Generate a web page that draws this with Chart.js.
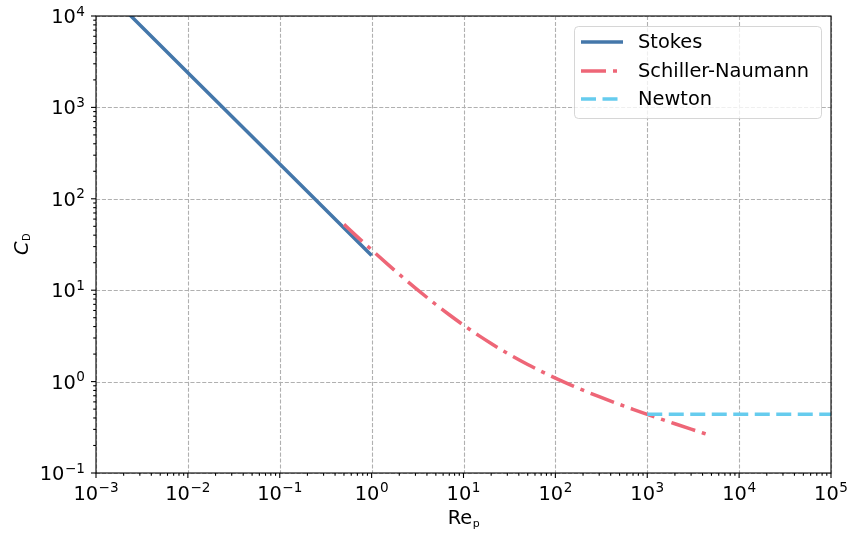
<!DOCTYPE html>
<html>
<head>
<meta charset="utf-8">
<script src="https://cdn.jsdelivr.net/npm/chart.js@4/dist/chart.umd.min.js"></script>
<style>
  html, body { margin: 0; padding: 0; background: #fff; }
  #wrap { width: 848px; height: 533px; }
</style>
</head>
<body>
<div id="wrap"><canvas id="c" width="848" height="533"></canvas></div>
<script>
// Drag coefficient vs particle Reynolds number
const stokesRe = [0.001, 0.01, 0.1, 1];
const stokesCd = [24000, 2400, 240, 24];

const schillerRe = [0.5, 0.7, 1, 1.5, 2, 3, 5, 7, 10, 15, 20, 30, 50, 70, 100, 150, 200, 300, 500, 700, 1000, 1500, 2000, 3000, 5000];
const schillerCd = [52.47, 38.31, 27.6, 19.17, 14.90, 10.55, 6.975, 5.386, 4.151, 3.143, 2.610, 2.042, 1.538, 1.295, 1.092, 0.910, 0.806, 0.684, 0.5627, 0.4976, 0.4385, 0.381, 0.3456, 0.3018, 0.2551];

const newtonRe = [1000, 100000];
const newtonCd = [0.44, 0.44];

const seriesNames = ['Stokes', 'Schiller-Naumann', 'Newton'];

const xTicks = [1e-3, 1e-2, 1e-1, 1e0, 1e1, 1e2, 1e3, 1e4, 1e5];
const xTickExps = ['\u22123', '\u22122', '\u22121', '0', '1', '2', '3', '4', '5'];
const yTicks = [1e-1, 1e0, 1e1, 1e2, 1e3, 1e4];
const yTickExps = ['\u22121', '0', '1', '2', '3', '4'];

const FONT = '"DejaVu Sans", sans-serif';
const MAIN_PX = 19.4;
const SUP_PX = 13.6;

const colors = ['#4477AA', '#EE6677', '#66CCEE'];
const dashes = [[], [25, 7, 4, 7], [15, 6.5]];
const LW = 3.5;

function pts(xs, ys) { return xs.map((x, i) => ({ x: x, y: ys[i] })); }

function powLabel(ctx, exp, x, baseMain, baseSup, align) {
  ctx.font = MAIN_PX + 'px ' + FONT;
  const w1 = ctx.measureText('10').width;
  ctx.font = SUP_PX + 'px ' + FONT;
  const w2 = ctx.measureText(exp).width;
  const total = w1 + 0.5 + w2;
  let start = align === 'center' ? x - total / 2 : x - total;
  ctx.textAlign = 'left';
  ctx.textBaseline = 'alphabetic';
  ctx.font = MAIN_PX + 'px ' + FONT;
  ctx.fillText('10', start, baseMain);
  ctx.font = SUP_PX + 'px ' + FONT;
  ctx.fillText(exp, start + w1 + 0.5, baseSup);
}

const axesPlugin = {
  id: 'axesDecor',
  beforeDatasetsDraw(chart) {
    const { ctx, chartArea: a, scales } = chart;
    ctx.save();
    ctx.strokeStyle = '#b0b0b0';
    ctx.lineWidth = 1.1;
    ctx.setLineDash([4.1, 1.8]);
    xTicks.forEach(v => {
      const px = Math.round(scales.x.getPixelForValue(v)) + 0.5;
      ctx.beginPath(); ctx.moveTo(px, a.top); ctx.lineTo(px, a.bottom); ctx.stroke();
    });
    yTicks.forEach(v => {
      const py = Math.round(scales.y.getPixelForValue(v)) + 0.5;
      ctx.beginPath(); ctx.moveTo(a.left, py); ctx.lineTo(a.right, py); ctx.stroke();
    });
    ctx.restore();
  },
  afterDatasetsDraw(chart) {
    const { ctx, chartArea: a, scales } = chart;
    ctx.save();
    ctx.strokeStyle = '#000';
    ctx.fillStyle = '#000';
    ctx.lineWidth = 1.1;
    ctx.setLineDash([]);
    // frame
    ctx.strokeRect(a.left, a.top, a.right - a.left, a.bottom - a.top);

    // x ticks
    xTicks.forEach((v, i) => {
      const px = scales.x.getPixelForValue(v);
      ctx.beginPath(); ctx.moveTo(px, a.bottom); ctx.lineTo(px, a.bottom + 5); ctx.stroke();
      if (i < xTicks.length - 1) {
        for (let k = 2; k <= 9; k++) {
          const mx = scales.x.getPixelForValue(v * k);
          ctx.beginPath(); ctx.moveTo(mx, a.bottom); ctx.lineTo(mx, a.bottom + 2.8); ctx.stroke();
        }
      }
      powLabel(ctx, xTickExps[i], px, a.bottom + 26.5, a.bottom + 19, 'center');
    });

    // y ticks
    yTicks.forEach((v, i) => {
      const py = scales.y.getPixelForValue(v);
      ctx.beginPath(); ctx.moveTo(a.left, py); ctx.lineTo(a.left - 5, py); ctx.stroke();
      if (i < yTicks.length - 1) {
        for (let k = 2; k <= 9; k++) {
          const my = scales.y.getPixelForValue(v * k);
          ctx.beginPath(); ctx.moveTo(a.left, my); ctx.lineTo(a.left - 2.8, my); ctx.stroke();
        }
      }
      powLabel(ctx, yTickExps[i], a.left - 11, py + 7, py - 0.5, 'right');
    });

    // axis titles
    const cx = (a.left + a.right) / 2;
    ctx.font = MAIN_PX + 'px ' + FONT;
    const wRe = ctx.measureText('Re').width;
    ctx.font = '11px ' + FONT;
    const wP = ctx.measureText('p').width;
    let sx = cx - (wRe + wP) / 2;
    ctx.textAlign = 'left';
    ctx.textBaseline = 'alphabetic';
    ctx.font = MAIN_PX + 'px ' + FONT;
    ctx.fillText('Re', sx, 524);
    ctx.font = '11px ' + FONT;
    ctx.fillText('p', sx + wRe + 0.5, 527);

    const cy = (a.top + a.bottom) / 2;
    ctx.translate(28, cy);
    ctx.rotate(-Math.PI / 2);
    ctx.font = 'italic ' + MAIN_PX + 'px ' + FONT;
    const wC = ctx.measureText('C').width;
    ctx.font = '10px ' + FONT;
    const wD = ctx.measureText('D').width;
    const sy = -(wC + wD) / 2;
    ctx.font = 'italic ' + MAIN_PX + 'px ' + FONT;
    ctx.fillText('C', sy, 0);
    ctx.font = '10px ' + FONT;
    ctx.fillText('D', sy + wC + 0.5, 1.5);
    ctx.restore();
  },
  afterDraw(chart) {
    const { ctx } = chart;
    ctx.save();
    // legend box
    const bx = 574.5, by = 26.5, bw = 247, bh = 92, r = 4;
    ctx.beginPath();
    ctx.moveTo(bx + r, by);
    ctx.arcTo(bx + bw, by, bx + bw, by + bh, r);
    ctx.arcTo(bx + bw, by + bh, bx, by + bh, r);
    ctx.arcTo(bx, by + bh, bx, by, r);
    ctx.arcTo(bx, by, bx + bw, by, r);
    ctx.closePath();
    ctx.fillStyle = 'rgba(255,255,255,0.8)';
    ctx.fill();
    ctx.strokeStyle = 'rgba(204,204,204,0.8)';
    ctx.lineWidth = 1;
    ctx.stroke();

    const rows = [42, 71, 99];
    seriesNames.forEach((name, i) => {
      ctx.strokeStyle = colors[i];
      ctx.lineWidth = LW;
      ctx.lineCap = 'butt';
      ctx.setLineDash(dashes[i]);
      ctx.beginPath(); ctx.moveTo(581, rows[i]); ctx.lineTo(623, rows[i]); ctx.stroke();
      ctx.setLineDash([]);
      ctx.fillStyle = '#000';
      ctx.font = MAIN_PX + 'px ' + FONT;
      ctx.textAlign = 'left';
      ctx.textBaseline = 'middle';
      ctx.fillText(name, 638, rows[i] + 1);
    });
    ctx.restore();
  }
};

const seriesData = [pts(stokesRe, stokesCd), pts(schillerRe, schillerCd), pts(newtonRe, newtonCd)];

new Chart(document.getElementById('c'), {
  type: 'scatter',
  data: {
    datasets: seriesData.map((d, i) => ({
      label: seriesNames[i],
      data: d,
      showLine: true,
      borderColor: colors[i],
      backgroundColor: colors[i],
      borderWidth: LW,
      borderDash: dashes[i],
      borderCapStyle: 'butt',
      pointRadius: 0,
      pointHoverRadius: 0,
      cubicInterpolationMode: i === 1 ? 'monotone' : 'default',
      clip: 0,
      order: 3 - i
    }))
  },
  options: {
    responsive: false,
    animation: false,
    devicePixelRatio: 1,
    layout: { padding: { left: 96, top: 16, right: 17, bottom: 60 } },
    plugins: { legend: { display: false }, tooltip: { enabled: false } },
    events: [],
    scales: {
      x: { type: 'logarithmic', min: 1e-3, max: 1e5, display: false },
      y: { type: 'logarithmic', min: 1e-1, max: 1e4, display: false }
    }
  },
  plugins: [axesPlugin]
});
</script>
</body>
</html>
